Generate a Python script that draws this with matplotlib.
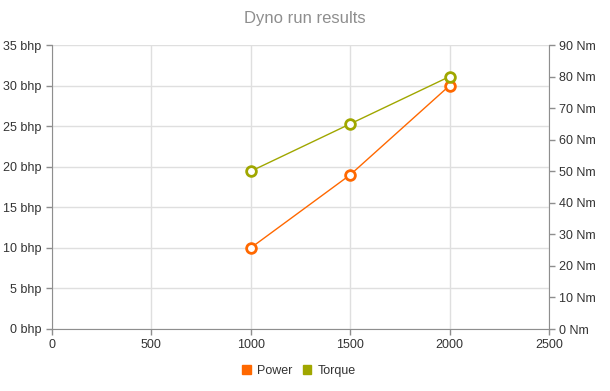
import matplotlib.pyplot as plt

rpm = [1000, 1500, 2000]
power = [10, 19, 30]
torque = [50, 65, 80]

x_ticks = [0, 500, 1000, 1500, 2000, 2500]
power_ticks = [0, 5, 10, 15, 20, 25, 30, 35]
torque_ticks = [0, 10, 20, 30, 40, 50, 60, 70, 80, 90]

orange = '#ff6800'
olive = '#a0a700'
axis_col = '#8e8e8e'
grid_col = '#dfdfdf'
text_col = '#333333'

plt.rcParams['font.family'] = ['Liberation Sans', 'DejaVu Sans']

fig = plt.figure(figsize=(6.1, 3.91), dpi=100)
ax = fig.add_axes([52 / 610, 1 - 329 / 391, 497 / 610, 284 / 391])
ax2 = ax.twinx()

ax.set_xlim(0, 2500)
ax.set_ylim(0, 35)
ax2.set_ylim(0, 90)

ax.set_xticks(x_ticks)
ax.set_xticklabels([str(v) for v in x_ticks])
ax.set_yticks(power_ticks)
ax.set_yticklabels(['%d bhp' % v for v in power_ticks])
ax2.set_yticks(torque_ticks)
ax2.set_yticklabels(['%d Nm' % v for v in torque_ticks])

ax.grid(True, color=grid_col, linewidth=1)
ax.set_axisbelow(True)

for a in (ax, ax2):
    for s in a.spines.values():
        s.set_visible(False)
    a.tick_params(colors=axis_col, labelcolor=text_col, labelsize=9, length=4, width=1)

ax.spines['left'].set_visible(True)
ax.spines['left'].set_color(axis_col)
ax.spines['bottom'].set_visible(True)
ax.spines['bottom'].set_color(axis_col)
ax2.spines['right'].set_visible(True)
ax2.spines['right'].set_color(axis_col)

ax.plot(rpm, power, color=orange, linewidth=1, marker='o', markersize=7,
        markerfacecolor='white', markeredgecolor=orange, markeredgewidth=2,
        label='Power', zorder=3)
ax2.plot(rpm, torque, color=olive, linewidth=1, marker='o', markersize=7,
         markerfacecolor='white', markeredgecolor=olive, markeredgewidth=2,
         label='Torque', zorder=3)

fig.text(0.5, 1 - 18 / 391, 'Dyno run results', ha='center', va='center',
         fontsize=12, color='#8e8e8e')

handles = [plt.Rectangle((0, 0), 1, 1, color=orange),
           plt.Rectangle((0, 0), 1, 1, color=olive)]
fig.legend(handles, ['Power', 'Torque'], loc='center', bbox_to_anchor=(0.49, 1 - 371 / 391),
           ncol=2, frameon=False, fontsize=9, handlelength=0.7, handleheight=0.7,
           handletextpad=0.5, columnspacing=0.8, labelcolor=text_col)

fig.savefig('out.png', dpi=100)
